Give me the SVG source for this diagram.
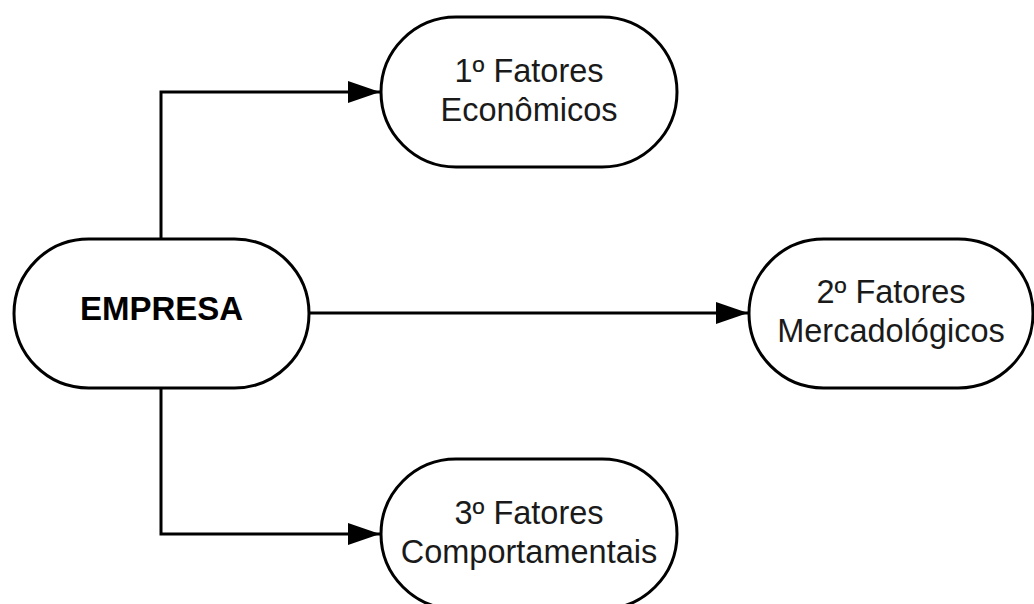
<svg xmlns="http://www.w3.org/2000/svg" width="1034" height="604" viewBox="0 0 1034 604">
<style>
.node{fill:#ffffff;stroke:#000000;stroke-width:3}
.lbl{font-family:"Liberation Sans",Arial,sans-serif;font-size:32.5px;fill:#1a1a1a;text-anchor:middle}
.bold{font-weight:bold;font-size:33px;fill:#000000}
.conn{fill:none;stroke:#000000;stroke-width:3}
</style>
<defs>
<marker id="arrow" markerUnits="userSpaceOnUse" markerWidth="34" markerHeight="24" refX="32" refY="11" orient="auto">
<path d="M0,0 L32,11 L0,22 Z" fill="#000000"/>
</marker>
</defs>
<rect width="1034" height="604" fill="#ffffff"/>
<g id="connectors">
<path class="conn" d="M161,239 V92 H380" marker-end="url(#arrow)"/>
<path class="conn" d="M309,313 H748" marker-end="url(#arrow)"/>
<path class="conn" d="M161,388 V534 H380" marker-end="url(#arrow)"/>
</g>
<g id="empresa">
<rect class="node" x="14" y="239" width="295" height="149" rx="74.5"/>
<text class="lbl bold" x="161.5" y="320">EMPRESA</text>
</g>
<g id="fatores1">
<rect class="node" x="381" y="17" width="296" height="150" rx="75"/>
<text class="lbl" x="529" y="82">1º Fatores</text>
<text class="lbl" x="529" y="121">Econômicos</text>
</g>
<g id="fatores2">
<rect class="node" x="749" y="239" width="284" height="149" rx="74.5"/>
<text class="lbl" x="891" y="303">2º Fatores</text>
<text class="lbl" x="891" y="342">Mercadológicos</text>
</g>
<g id="fatores3">
<rect class="node" x="381" y="459" width="296" height="150" rx="75"/>
<text class="lbl" x="529" y="524">3º Fatores</text>
<text class="lbl" x="529" y="563">Comportamentais</text>
</g>
</svg>
